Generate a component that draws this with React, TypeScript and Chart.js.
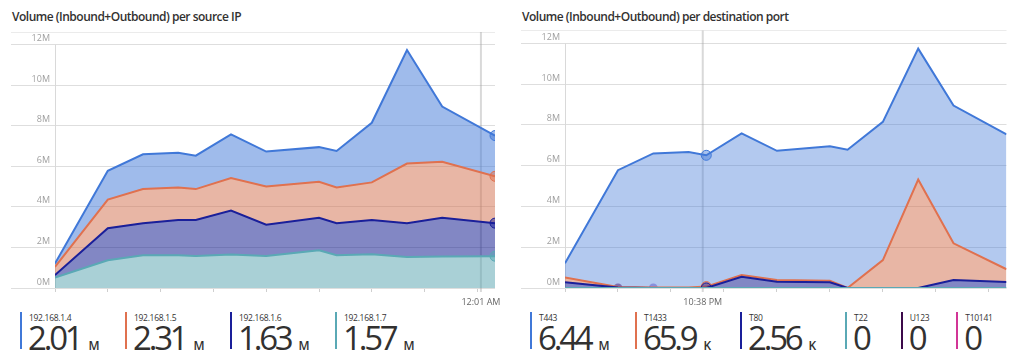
import React, { useEffect, useRef } from 'react';
import { Chart, registerables } from 'chart.js';
Chart.register(...registerables);

// time slots (5-minute buckets) where samples exist
const timeSlots = [0, 3, 5, 7, 8, 10, 12, 15, 16, 18, 20, 22, 25];
const xTickSlots = [0, 3, 6, 9, 12, 15, 18, 21, 24];
const xMaxSlot = 25;
const yTickValuesM = [0, 2, 4, 6, 8, 10, 12];
const yMaxM = 12.63;

// per source IP (millions)
const ipLabels = ['192.168.1.4', '192.168.1.5', '192.168.1.6', '192.168.1.7'];
const ip4 = [0.17, 1.42, 1.72, 1.71, 1.65, 2.16, 1.72, 1.71, 1.8, 2.94, 5.6, 2.72, 2.01];
const ip5 = [0.4, 1.41, 1.68, 1.6, 1.52, 1.6, 1.89, 1.78, 1.76, 1.85, 2.94, 2.77, 2.31];
const ip6 = [0.12, 1.58, 1.58, 1.74, 1.78, 2.17, 1.54, 1.6, 1.58, 1.69, 1.67, 1.91, 1.63];
const ip7 = [0.52, 1.37, 1.62, 1.62, 1.58, 1.65, 1.58, 1.86, 1.62, 1.67, 1.53, 1.55, 1.57];
const ipLegendValues = ['2.01', '2.31', '1.63', '1.57'];
const ipLegendUnits = ['M', 'M', 'M', 'M'];
const ipHoverSlot = 25;
const ipCrosshairSlot = 24.2;
const ipCrosshairLabel = '12:01 AM';

// per destination port (millions)
const portLabels = ['T443', 'T1433', 'T80', 'T22', 'U123', 'T10141'];
const portT443 = [0.69, 5.73, 6.57, 6.64, 6.44, 6.94, 6.34, 6.59, 6.78, 6.78, 6.42, 6.76, 6.62];
const portT1433 = [0.24, 0.03, 0.03, 0.03, 0.0659, 0.09, 0.08, 0.08, 0, 1.37, 5.32, 1.8, 0.62];
const portT80 = [0.28, 0.02, 0, 0, 0.00256, 0.55, 0.31, 0.28, 0, 0, 0, 0.39, 0.3];
const portT22 = [0, 0, 0, 0, 0, 0, 0, 0, 0, 0, 0, 0, 0];
const portU123 = [null, 0, null, null, null, null, null, null, null, null, null, null, null];
const portT10141 = [null, null, 0, null, null, null, null, null, null, null, null, null, null];
const portLegendValues = ['6.44', '65.9', '2.56', '0', '0', '0'];
const portLegendUnits = ['M', 'K', 'K', '', '', ''];
const portHoverSlot = 8;
const portCrosshairSlot = 7.8;
const portCrosshairLabel = '10:38 PM';

const FONT = '"Open Sans", "Noto Sans", sans-serif';

const C = {
  blue: '#4078d8',
  orange: '#e0714f',
  navy: '#1a1f9a',
  teal: '#5aa9b5',
  plum: '#3c0a4a',
  magenta: '#d23596',
};

const toPoints = (vals: (number | null)[]) =>
  vals.map((v, i) => ({ x: timeSlots[i], y: v === null ? null : v * 1e6 }));

function lineDs(label: string, vals: (number | null)[], line: string, fill: string | false, fillTo: any, marker: string, hoverSlot: number) {
  return {
    label,
    data: toPoints(vals),
    borderColor: line,
    backgroundColor: fill || 'transparent',
    fill: fill ? fillTo : false,
    borderWidth: 2,
    tension: 0,
    stack: 'main',
    clip: { left: 0, top: false, right: 0, bottom: 0 },
    pointRadius: (ctx: any) => (ctx.raw && ctx.raw.x === hoverSlot ? 5 : 0),
    pointBackgroundColor: marker,
    pointBorderColor: line,
    pointBorderWidth: 1,
  };
}

function dotDs(label: string, vals: (number | null)[], color: string) {
  return {
    label,
    data: toPoints(vals),
    borderColor: color,
    backgroundColor: color,
    showLine: false,
    fill: false,
    stack: 'dots',
    clip: { left: 0, top: false, right: 0, bottom: 0 },
    pointRadius: 4.5,
    pointBorderWidth: 0,
    pointBackgroundColor: color,
  };
}

function overlayPlugin(crossSlot: number, crossLabel: string) {
  return {
    id: 'overlay',
    beforeDatasetsDraw(chart: any) {
      const { ctx, chartArea, scales } = chart;
      const y = scales.y;
      const x = scales.x;
      ctx.save();
      ctx.strokeStyle = '#d9d9d9';
      ctx.lineWidth = 1;
      const lx = Math.round(chartArea.left) + 0.5;
      ctx.beginPath();
      ctx.moveTo(lx, y.getPixelForValue(yTickValuesM[yTickValuesM.length - 1] * 1e6));
      ctx.lineTo(lx, chartArea.bottom);
      ctx.stroke();
      const cx = x.getPixelForValue(crossSlot);
      ctx.strokeStyle = 'rgba(160,160,160,0.4)';
      ctx.lineWidth = 2;
      ctx.beginPath();
      ctx.moveTo(cx, chartArea.top);
      ctx.lineTo(cx, chartArea.bottom + 4);
      ctx.stroke();
      ctx.restore();
    },
    afterDraw(chart: any) {
      const { ctx, chartArea, scales } = chart;
      const cx = scales.x.getPixelForValue(crossSlot);
      ctx.save();
      ctx.font = '9px ' + FONT;
      ctx.fillStyle = '#666';
      ctx.textAlign = 'center';
      ctx.textBaseline = 'middle';
      ctx.fillText(crossLabel, cx, chartArea.bottom + 14);
      ctx.restore();
    },
  };
}

function makeOptions() {
  const yMax = yMaxM * 1e6;
  return {
    responsive: false,
    animation: false as const,
    devicePixelRatio: 1,
    layout: { padding: { top: 4, bottom: 14, left: 0, right: 4 } },
    plugins: { legend: { display: false }, tooltip: { enabled: false } },
    events: [],
    scales: {
      x: {
        type: 'linear' as const,
        min: 0,
        max: xMaxSlot,
        afterBuildTicks: (s: any) => {
          s.ticks = xTickSlots.map((v) => ({ value: v }));
        },
        ticks: { display: false },
        grid: { drawOnChartArea: false, drawTicks: true, tickLength: 4, color: '#cfcfcf' },
        border: { display: false },
        afterFit: (s: any) => {
          s.height = 4;
        },
      },
      y: {
        type: 'linear' as const,
        stacked: true,
        min: 0,
        max: yMax,
        afterBuildTicks: (s: any) => {
          s.ticks = [...yTickValuesM.map((v) => ({ value: v * 1e6 })), { value: yMax }];
        },
        ticks: {
          callback: (v: any) => (v < yMax - 1 ? Math.round(v / 1e6) + 'M' : ''),
          labelOffset: -6,
          padding: -39,
          color: '#a0a0a0',
          font: { size: 9, family: FONT },
        },
        grid: {
          color: (ctx: any) => (ctx.tick && ctx.tick.value >= yMax - 1 ? '#ebebeb' : '#dedede'),
          tickLength: 44,
          drawTicks: true,
        },
        border: { display: false },
        afterFit: (s: any) => {
          s.width = 44;
        },
      },
    },
  };
}

function ChartCanvas({ datasets, crossSlot, crossLabel }: any) {
  const ref = useRef<HTMLCanvasElement | null>(null);
  useEffect(() => {
    if (!ref.current) return;
    const chart = new Chart(ref.current, {
      type: 'line',
      data: { datasets },
      options: makeOptions() as any,
      plugins: [overlayPlugin(crossSlot, crossLabel)],
    });
    return () => chart.destroy();
  }, []);
  return <canvas ref={ref} width={490} height={280} style={{ display: 'block', marginLeft: 3, width: 490, height: 280 }} />;
}

function Legend({ labels, values, units, colors }: any) {
  return (
    <div style={{ display: 'flex', paddingLeft: 12, marginTop: 6, gap: 24 }}>
      {labels.map((l: string, i: number) => (
        <div key={l} style={{ display: 'flex', alignItems: 'flex-start', flex: '0 0 auto' }}>
          <div style={{ width: 2, height: 37, background: colors[i] }} />
          <div style={{ marginLeft: 7, display: 'flex', flexDirection: 'column', minWidth: units[i] ? 72 : 22 }}>
            <div style={{ fontSize: 8.5, lineHeight: '10px', color: '#333', letterSpacing: -0.3, fontFamily: FONT, marginTop: 1 }}>{l}</div>
            <div style={{ display: 'flex', alignItems: 'baseline', marginLeft: -1 }}>
              <span style={{ fontSize: 33, lineHeight: '29px', fontWeight: 400, color: '#323130', letterSpacing: -3.2, fontFamily: FONT }}>{values[i]}</span>
              <span style={{ fontSize: 12, fontWeight: 600, color: '#323130', marginLeft: 8, fontFamily: FONT }}>{units[i]}</span>
            </div>
          </div>
        </div>
      ))}
    </div>
  );
}

function Panel({ title, datasets, crossSlot, crossLabel, legend }: any) {
  return (
    <div style={{ width: 510, flex: '0 0 510px', overflow: 'hidden' }}>
      <div style={{ paddingLeft: 4, height: 18, lineHeight: '18px', fontSize: 12, fontWeight: 600, letterSpacing: -0.5, color: '#323130', fontFamily: FONT, whiteSpace: 'nowrap' }}>{title}</div>
      <ChartCanvas datasets={datasets} crossSlot={crossSlot} crossLabel={crossLabel} />
      <Legend {...legend} />
    </div>
  );
}

export default function App() {
  const ipDatasets = [
    lineDs(ipLabels[3], ip7, C.teal, 'rgba(83,161,173,0.5)', 'origin', 'rgba(90,169,181,0.5)', ipHoverSlot),
    lineDs(ipLabels[2], ip6, C.navy, 'rgba(5,15,137,0.5)', '-1', 'rgba(26,31,154,0.5)', ipHoverSlot),
    lineDs(ipLabels[1], ip5, C.orange, 'rgba(209,109,75,0.5)', '-1', 'rgba(224,113,79,0.5)', ipHoverSlot),
    lineDs(ipLabels[0], ip4, C.blue, 'rgba(64,120,216,0.5)', '-1', 'rgba(64,120,216,0.5)', ipHoverSlot),
  ];
  const portDatasets = [
    lineDs(portLabels[3], portT22, C.teal, false, false, 'rgba(90,169,181,0.4)', -1),
    lineDs(portLabels[2], portT80, C.navy, 'rgba(5,15,137,0.5)', 'origin', 'rgba(26,31,154,0.4)', portHoverSlot),
    lineDs(portLabels[1], portT1433, C.orange, 'rgba(209,109,75,0.5)', '-1', 'rgba(224,113,79,0.45)', portHoverSlot),
    lineDs(portLabels[0], portT443, C.blue, 'rgba(64,120,216,0.4)', '-1', 'rgba(64,120,216,0.45)', portHoverSlot),
    dotDs(portLabels[4], portU123, 'rgba(120,20,90,0.65)'),
    dotDs(portLabels[5], portT10141, 'rgba(150,120,215,0.7)'),
  ];
  return (
    <div style={{ display: 'flex', width: 1020 }}>
      <Panel
        title="Volume (Inbound+Outbound) per source IP"
        datasets={ipDatasets}
        crossSlot={ipCrosshairSlot}
        crossLabel={ipCrosshairLabel}
        legend={{ labels: ipLabels, values: ipLegendValues, units: ipLegendUnits, colors: [C.blue, C.orange, C.navy, C.teal] }}
      />
      <Panel
        title="Volume (Inbound+Outbound) per destination port"
        datasets={portDatasets}
        crossSlot={portCrosshairSlot}
        crossLabel={portCrosshairLabel}
        legend={{ labels: portLabels, values: portLegendValues, units: portLegendUnits, colors: [C.blue, C.orange, C.navy, C.teal, C.plum, C.magenta] }}
      />
    </div>
  );
}
